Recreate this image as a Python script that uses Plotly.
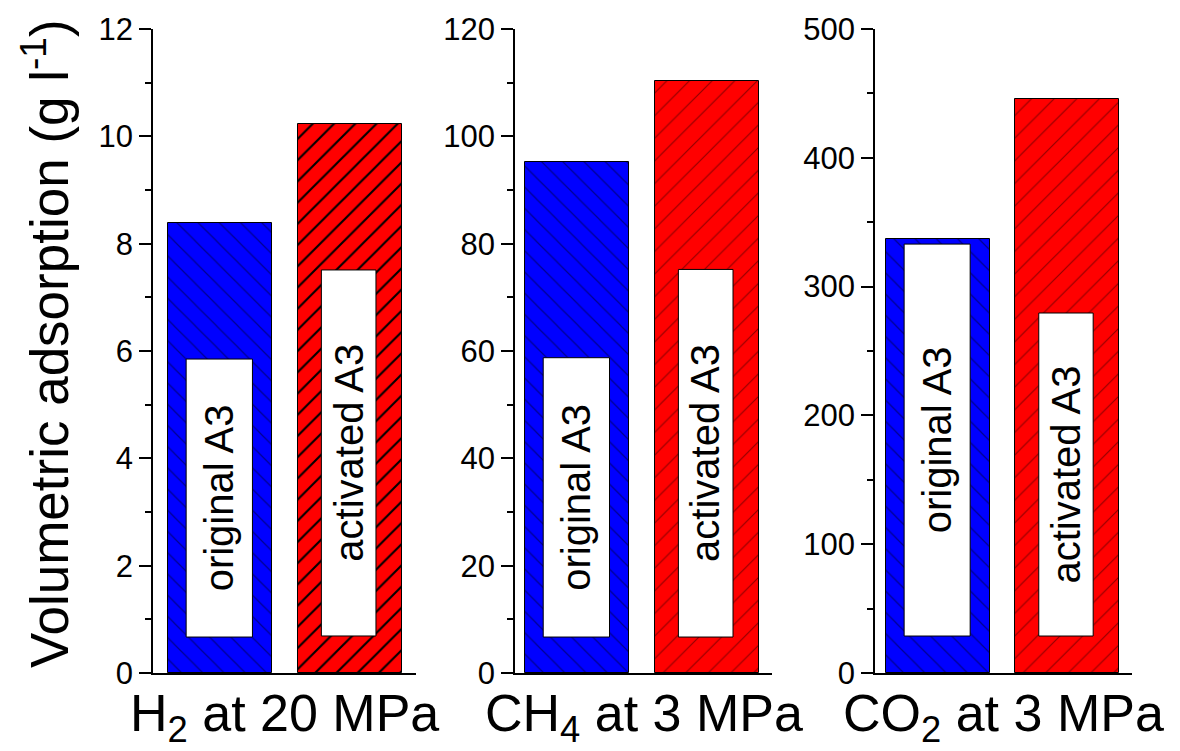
import plotly.graph_objects as go

# ---------------- data ----------------
categories = ["original A3", "activated A3"]
panel_labels = ["H<sub>2</sub> at 20 MPa", "CH<sub>4</sub> at 3 MPa", "CO<sub>2</sub> at 3 MPa"]
original_values = [8.39, 95.3, 336.7]
activated_values = [10.23, 110.4, 445.4]
y_max = [12, 120, 500]
y_major_step = [2, 20, 100]
y_minor_step = [1, 10, 50]
label_box_bottom_original = [0.67, 6.7, 28.7]
label_box_top_original = [5.85, 58.75, 333.0]
label_box_bottom_activated = [0.69, 6.7, 28.7]
label_box_top_activated = [7.51, 75.2, 279.5]
y_title = "Volumetric adsorption (g l<sup>-1</sup>)"

# ---------------- style ----------------
OFF = 8  # page body margin
W, H = 1180 - OFF, 751 - OFF
FONT = "Liberation Sans, Arial, sans-serif"


def px_x(v):
    return (v - OFF) / W


def px_y(v):
    return 1 - (v - OFF) / H


x_domains_px = [(153, 416), (515, 772), (875, 1132)]
x_ranges = [(-0.515, 1.508), (-0.477, 1.5), (-0.485, 1.5)]
y_top_px, y_bot_px = 29, 673
bar_width = 0.8
box_half = [(0.26, 0.25), (0.22, 0.20)]
bar_colors = ["#0000ff", "#ff0000"]
pattern_shapes = ["\\", "/"]
pattern_fg = [["#000090", "#000000"], ["#000090", "#900000"], ["#000090", "#900000"]]
pattern_size = [[15, 15], [15, 16], [15, 16]]
pattern_solidity = [[0.08, 0.14], [0.08, 0.07], [0.08, 0.07]]

fig = go.Figure()
shapes = []
annotations = []
values_per_panel = list(zip(original_values, activated_values))
boxes = [
    (label_box_bottom_original, label_box_top_original),
    (label_box_bottom_activated, label_box_top_activated),
]

for p in range(3):
    sfx = "" if p == 0 else str(p + 1)
    xa, ya = "x" + sfx, "y" + sfx
    for i in range(2):
        fig.add_trace(go.Bar(
            x=[i], y=[values_per_panel[p][i]], xaxis=xa, yaxis=ya,
            width=bar_width, showlegend=False, hoverinfo="skip",
            name=categories[i],
            marker=dict(
                color=bar_colors[i],
                line=dict(color="#000000", width=1),
                pattern=dict(
                    shape=pattern_shapes[i],
                    fgcolor=pattern_fg[p][i],
                    bgcolor=bar_colors[i],
                    size=pattern_size[p][i],
                    solidity=pattern_solidity[p][i],
                    fillmode="replace",
                ),
            ),
        ))
        lo, hi = boxes[i][0][p], boxes[i][1][p]
        hl, hr = box_half[i]
        shapes.append(dict(
            type="rect", xref=xa, yref=ya, x0=i - hl, x1=i + hr, y0=lo, y1=hi,
            fillcolor="white", line=dict(color="#000000", width=1), layer="above",
        ))
        annotations.append(dict(
            xref=xa, yref=ya, x=i + (hr - hl) / 2, y=(lo + hi) / 2,
            text=categories[i], textangle=-90, showarrow=False,
            font=dict(family=FONT, size=40, color="#000000"),
            xanchor="center", yanchor="middle",
        ))
    d0, d1 = x_domains_px[p]
    annotations.append(dict(
        xref="paper", yref="paper", x=px_x((d0 + d1) / 2), y=px_y(682),
        text=panel_labels[p], showarrow=False,
        font=dict(family=FONT, size=52, color="#000000"),
        xanchor="center", yanchor="top",
    ))

annotations.append(dict(
    xref="paper", yref="paper", x=px_x(45), y=px_y(344),
    text=y_title, textangle=-90, showarrow=False,
    font=dict(family=FONT, size=53, color="#000000"),
    xanchor="center", yanchor="middle",
))

layout = dict(
    width=W, height=H, margin=dict(l=0, r=0, t=0, b=0),
    paper_bgcolor="white", plot_bgcolor="white",
    shapes=shapes, annotations=annotations, bargap=0,
    font=dict(family=FONT, color="#000000"),
)
for p in range(3):
    sfx = "" if p == 0 else str(p + 1)
    d0, d1 = x_domains_px[p]
    layout["xaxis" + sfx] = dict(
        domain=[px_x(d0), px_x(d1)], range=list(x_ranges[p]), anchor="y" + sfx,
        showline=True, linecolor="#000000", linewidth=1.5,
        showticklabels=False, ticks="", showgrid=False, zeroline=False,
        fixedrange=True,
    )
    layout["yaxis" + sfx] = dict(
        domain=[px_y(y_bot_px), px_y(y_top_px)], range=[0, y_max[p]],
        anchor="x" + sfx, showline=True, linecolor="#000000", linewidth=1.5,
        ticks="outside", ticklen=12, tickwidth=1.5, tickcolor="#000000",
        dtick=y_major_step[p], tick0=0,
        minor=dict(ticks="outside", ticklen=6, tickwidth=1.5, tickcolor="#000000",
                   dtick=y_minor_step[p], showgrid=False),
        tickfont=dict(family=FONT, size=31, color="#000000"),
        showgrid=False, zeroline=False, automargin=False, fixedrange=True,
    )
fig.update_layout(**layout)
fig.write_html("out.html")
